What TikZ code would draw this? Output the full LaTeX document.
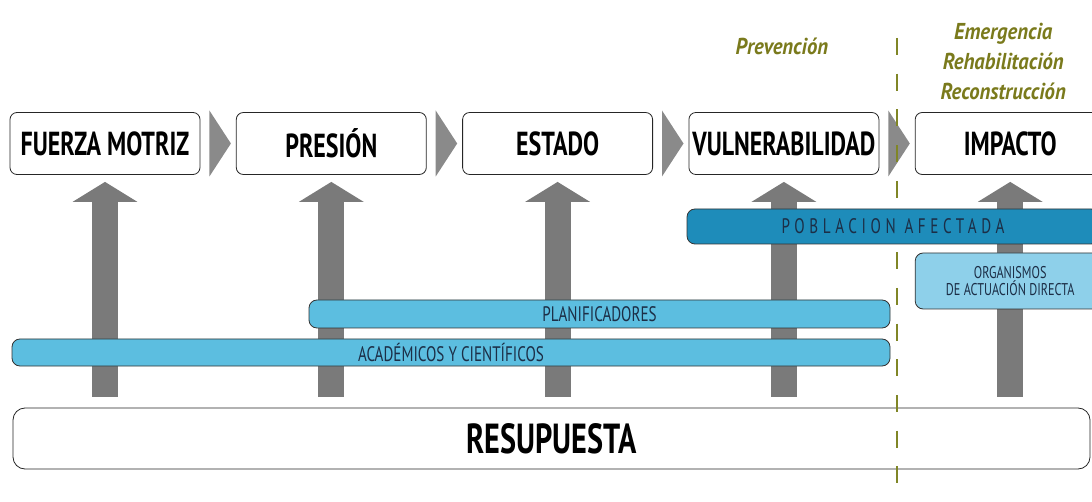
\documentclass[tikz,border=0pt]{standalone}
\usepackage{fontspec}
\setmainfont{PT Sans}[FakeStretch=0.72]
\newfontfamily\phasefont{PT Sans}[FakeStretch=0.9]
\usepackage{tikz}
\usetikzlibrary{arrows.meta,positioning,calc}
\definecolor{arrowgray}{RGB}{122,122,122}
\definecolor{chevgray}{RGB}{138,138,138}
\definecolor{pobblue}{RGB}{30,140,186}
\definecolor{barblue}{RGB}{92,190,224}
\definecolor{orgblue}{RGB}{142,208,234}
\definecolor{olivetext}{RGB}{122,122,28}
\definecolor{olivedash}{RGB}{128,134,38}
\definecolor{bartext}{RGB}{28,46,70}

\begin{document}
\begin{tikzpicture}[x=1pt, y=1pt,
        stage/.style={draw=black!85, line width=0.8pt, rounded corners=7pt, fill=white,
            minimum width=190pt, minimum height=62pt, inner sep=0pt,
            font=\bfseries\fontsize{33.3}{36}\selectfont},
        actor/.style={draw=black!80, line width=0.8pt, rounded corners=8pt, fill=barblue,
            inner sep=0pt, text=bartext, font=\fontsize{21}{22}\selectfont},
        phase/.style={text=olivetext, align=center,
            font=\phasefont\bfseries\itshape\fontsize{23}{30}\selectfont},
        uparrow/.style={draw=arrowgray, line width=26pt,
            -{Triangle[width=64pt,length=20pt]}, shorten <=11pt, shorten >=7pt},
        chev/.style={fill=chevgray},
        divider/.style={draw=olivedash, line width=2.6pt, dash pattern=on 17pt off 18.7pt}]
        \useasboundingbox (0,0) rectangle (1092,501);
        % stages
        \node[stage] (fm) at (105,357.5) {FUERZA MOTRIZ};
        \node[stage, right=35.5pt of fm] (pr) {PRESIÓN};
        \node[stage, right=35.5pt of pr] (es) {ESTADO};
        \node[stage, right=35.5pt of es] (vu) {VULNERABILIDAD};
        \node[stage, right=35.5pt of vu] (im) {IMPACTO};
        \foreach \a/\b in {fm/pr,pr/es,es/vu,vu/im}
            \fill[chev] ($(\a.east)+(9pt,33pt)$) -- ($(\b.west)+(-5pt,0pt)$)
                -- ($(\a.east)+(9pt,-33pt)$) -- cycle;
        % phases
        \node[phase, above=54pt of vu, xshift=-2pt] (prev) {Prevención};
        \node[phase, above=9pt of im, xshift=-7pt] (emer) {Emergencia\\Rehabilitación\\Reconstrucción};
        % response
        \node[draw=black!85, line width=0.8pt, rounded corners=12pt, minimum width=1077pt,
            minimum height=61pt, font=\bfseries\fontsize{42}{44}\selectfont] (resp)
            at (551.5,62.5) {RESUPUESTA};
        \foreach \s in {fm,pr,es,vu,im}
            \draw[uparrow] (\s.south |- resp.north) -- (\s.south);
        \coordinate (divtop) at (897,463);
        \coordinate (divbot) at (897,0);
        \draw[divider] (divtop) -- (divbot);
        % actors
        \node[actor, fill=pobblue, minimum width=412pt, minimum height=35pt,
            font=\fontsize{21}{22}\selectfont\addfontfeature{LetterSpace=22}] (pob)
            at (893,274.5) {POBLACION AFECTADA};
        \node[actor, fill=orgblue, minimum width=190pt, minimum height=56pt, align=center,
            font=\fontsize{17}{17}\selectfont] (org)
            at (im.center |- 0,220) {ORGANISMOS\\DE ACTUACIÓN DIRECTA};
        \node[actor, minimum width=581pt, minimum height=28pt] (plan)
            at (599.5,187) {PLANIFICADORES};
        \node[actor, minimum width=878pt, minimum height=27pt] (acad)
            at (451,148.5) {ACADÉMICOS Y CIENTÍFICOS};
    \end{tikzpicture}
\end{document}
